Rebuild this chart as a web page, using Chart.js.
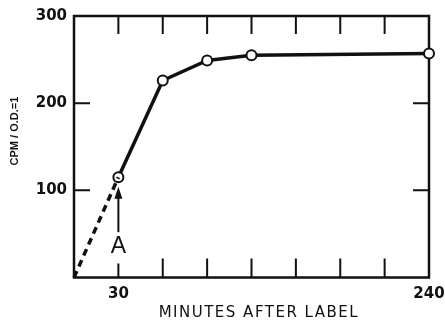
<!DOCTYPE html>
<html>
<head>
<meta charset="utf-8">
<script src="https://cdn.jsdelivr.net/npm/chart.js@4/dist/chart.umd.min.js"></script>
<style>
  html, body { margin: 0; padding: 0; background: #fff; }
  #wrap { width: 445px; height: 320px; }
</style>
</head>
<body>
<div id="wrap"><canvas id="chart" width="445" height="320"></canvas></div>
<script>
// values
const minutes = [30, 60, 90, 120, 240]
const cpm = [115, 226, 249, 255, 257]
// dashed extrapolation back to the origin
const extrapMinutes = [0, 30]
const extrapCpm = [0, 115]
// axis ticks
const xTickMarks = [30, 60, 90, 120, 150, 180, 210]
const xTickLabels = [30, 240]
const yTickMarks = [100, 200]
const yTickLabels = [100, 200, 300]
const xTitle = 'MINUTES AFTER LABEL'
const yTitle = 'CPM / O.D.=1'
// the arrow marking point A
const arrowAt = 30
const arrowFrom = 52
const arrowTo = 104
const arrowLabel = 'A'
const arrowLabelY = 35

const ink = '#111'

const framePlugin = {
  id: 'frame',
  beforeDatasetsDraw(chart) {
    const { ctx, chartArea: a, scales: { x, y } } = chart
    ctx.save()
    ctx.strokeStyle = ink
    ctx.lineWidth = 2.5
    ctx.strokeRect(a.left, a.top, a.right - a.left, a.bottom - a.top)

    ctx.lineWidth = 2
    ctx.beginPath()
    xTickMarks.forEach(v => {
      const px = x.getPixelForValue(v)
      ctx.moveTo(px, a.top); ctx.lineTo(px, a.top + 18)
      const len = v === arrowAt ? 14 : 19
      ctx.moveTo(px, a.bottom); ctx.lineTo(px, a.bottom - len)
    })
    yTickMarks.forEach(v => {
      const py = y.getPixelForValue(v)
      ctx.moveTo(a.left, py); ctx.lineTo(a.left + 16, py)
      ctx.moveTo(a.right, py); ctx.lineTo(a.right - 16, py)
    })
    ctx.stroke()

    // arrow up to point A
    const ax = x.getPixelForValue(arrowAt)
    const y0 = y.getPixelForValue(arrowFrom)
    const y1 = y.getPixelForValue(arrowTo)
    ctx.beginPath()
    ctx.moveTo(ax, y0); ctx.lineTo(ax, y1 + 6)
    ctx.stroke()
    ctx.fillStyle = ink
    ctx.beginPath()
    ctx.moveTo(ax, y1); ctx.lineTo(ax - 4, y1 + 12); ctx.lineTo(ax + 4, y1 + 12)
    ctx.closePath()
    ctx.fill()

    ctx.font = '23px "Liberation Sans"'
    ctx.textAlign = 'center'
    ctx.textBaseline = 'middle'
    ctx.fillText(arrowLabel, ax, y.getPixelForValue(arrowLabelY))

    // x axis title, lettered wide like the original
    ctx.font = '15px "DejaVu Sans"'
    ctx.letterSpacing = '1.5px'
    ctx.fillText(xTitle, x.getPixelForValue(125), 313.5)
    ctx.letterSpacing = '0px'

    // y axis title, sits a little above the middle of the axis
    ctx.translate(15, y.getPixelForValue(168))
    ctx.rotate(-Math.PI / 2)
    ctx.font = 'bold 11px "Liberation Sans"'
    ctx.fillText(yTitle, 0, 0)
    ctx.restore()
  }
}

new Chart(document.getElementById('chart').getContext('2d'), {
  type: 'line',
  data: {
    datasets: [
      {
        data: extrapMinutes.map((m, i) => ({ x: m, y: extrapCpm[i] })),
        borderColor: ink,
        borderWidth: 3.5,
        borderDash: [7, 5],
        pointRadius: 0,
        clip: false
      },
      {
        data: minutes.map((m, i) => ({ x: m, y: cpm[i] })),
        borderColor: ink,
        borderWidth: 3.5,
        pointRadius: 5,
        pointBorderWidth: 2,
        pointBackgroundColor: '#fff',
        pointBorderColor: ink,
        clip: false
      }
    ]
  },
  options: {
    responsive: false,
    animation: false,
    layout: { padding: { left: 0, right: 16, top: 16, bottom: 0 } },
    plugins: { legend: { display: false }, tooltip: { enabled: false } },
    scales: {
      x: {
        type: 'linear',
        min: 0,
        max: 240,
        afterBuildTicks: s => { s.ticks = xTickLabels.map(v => ({ value: v })) },
        afterFit: s => { s.height = 42.5; s.paddingLeft = 0; s.paddingRight = 0 },
        grid: { display: false, drawTicks: false },
        border: { display: false },
        ticks: {
          color: ink,
          padding: 8,
          maxRotation: 0,
          autoSkip: false,
          font: { family: 'DejaVu Sans', size: 15, weight: 'bold' }
        }
      },
      y: {
        min: 0,
        max: 300,
        afterBuildTicks: s => { s.ticks = yTickLabels.map(v => ({ value: v })) },
        afterFit: s => { s.width = 74; s.paddingTop = 0; s.paddingBottom = 0 },
        grid: { display: false, drawTicks: false },
        border: { display: false },
        ticks: {
          color: ink,
          padding: 7,
          autoSkip: false,
          font: { family: 'DejaVu Sans', size: 15, weight: 'bold' }
        }
      }
    }
  },
  plugins: [framePlugin]
})
</script>
</body>
</html>
